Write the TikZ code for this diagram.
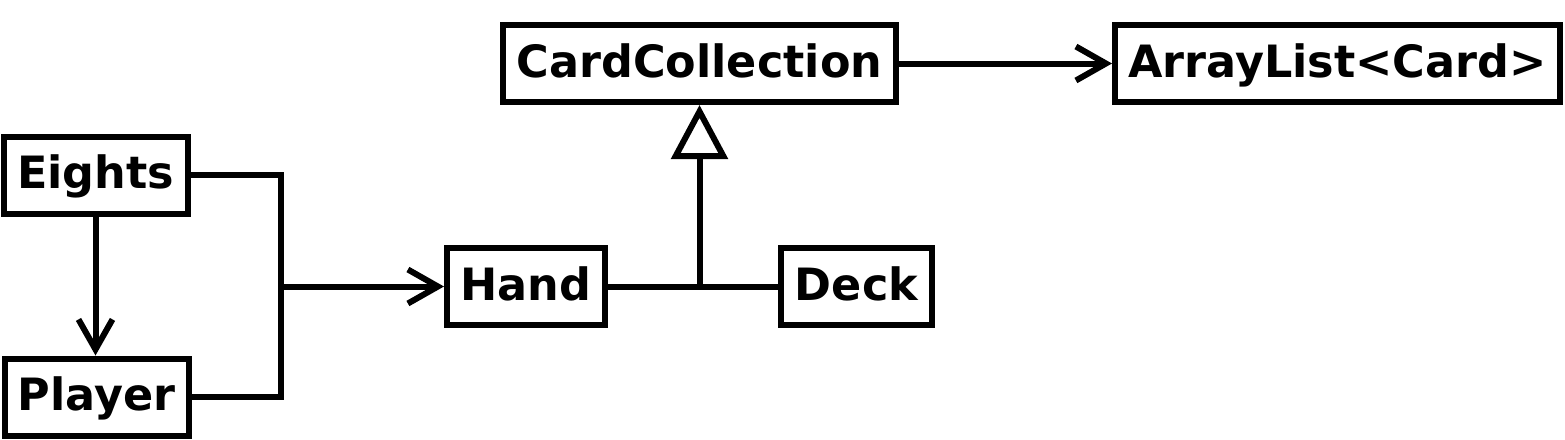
\documentclass[tikz,border=0pt]{standalone}
\usepackage{fontspec}
\setmainfont{DejaVu Sans}
\usetikzlibrary{arrows.meta}
\tikzset{
  cls/.style={draw, line width=6pt, inner sep=0pt, minimum height=77pt,
    font=\fontsize{44.5pt}{48pt}\selectfont\bfseries, text height=27.5pt, text depth=0pt},
  conn/.style={line width=6pt},
  arr/.style={conn, -{Straight Barb[length=30pt, width=34pt, line width=6pt]}},
  tri/.style={conn, -{Triangle[open, length=54pt, width=56pt, line width=6pt]}}
}
\begin{document}
\begin{tikzpicture}[x=1pt, y=-1pt]
\useasboundingbox (0,0) rectangle (1565,439);
\node[cls, minimum width=393pt] (cc) at (699.5,63.5) {CardCollection};
\node[cls, minimum width=445pt] (al) at (1337.5,63.5) {ArrayList<Card>};
\node[cls, minimum width=184pt] (eights) at (95.5,175) {Eights};
\node[cls, minimum width=184pt] (player) at (96.5,397) {Player};
\node[cls, minimum width=158pt] (hand) at (526,286.5) {Hand};
\node[cls, minimum width=151pt] (deck) at (856.5,286.5) {Deck};
\coordinate (j) at (280.5,286.5);
\coordinate (k) at (699.5,286.5);
\draw[conn] (eights.east) -| (j) |- (player.east);
\draw[arr] (j) -- (hand.west);
\draw[arr] (eights.south) -- (eights.south |- player.north);
\draw[conn] (hand.east) -- (deck.west);
\draw[tri] (k) -- (cc.south);
\draw[arr] (cc.east) -- (al.west);
\end{tikzpicture}
\end{document}
